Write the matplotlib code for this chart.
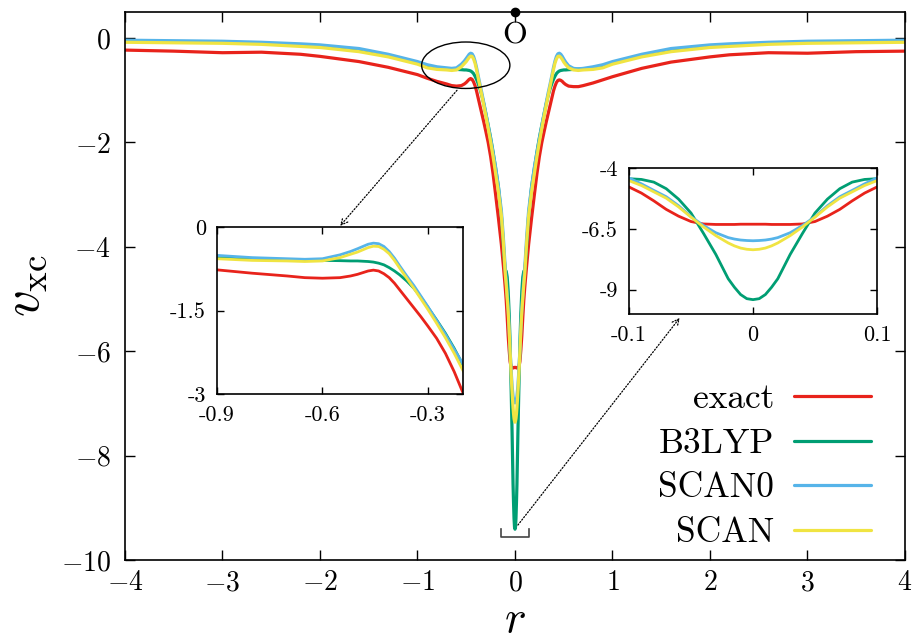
import numpy as np
import matplotlib
matplotlib.use("Agg")
import matplotlib.pyplot as plt
from matplotlib.patches import Ellipse

plt.rcParams['font.family'] = 'cmr10'
plt.rcParams['mathtext.fontset'] = 'cm'
plt.rcParams['axes.unicode_minus'] = False

# ---------------- data ----------------
r_left = [-4, -3.5, -3, -2.6, -2.2, -2, -1.6, -1.3, -1.0, -0.9,
          -0.8, -0.7, -0.65, -0.6, -0.55, -0.52, -0.5, -0.485, -0.47, -0.455,
          -0.44, -0.425, -0.41, -0.395, -0.38, -0.36, -0.34, -0.32, -0.3, -0.275,
          -0.25, -0.225, -0.2, -0.17, -0.14, -0.12, -0.11, -0.1, -0.09, -0.08,
          -0.07, -0.06, -0.05, -0.04, -0.03, -0.02, -0.015, -0.01, -0.005, 0]
r_right = [0.005, 0.01, 0.015, 0.02, 0.03, 0.04, 0.05, 0.06, 0.07, 0.08,
           0.09, 0.1, 0.11, 0.12, 0.14, 0.17, 0.2, 0.225, 0.25, 0.275,
           0.3, 0.32, 0.34, 0.36, 0.38, 0.395, 0.41, 0.425, 0.44, 0.455,
           0.47, 0.485, 0.5, 0.52, 0.55, 0.6, 0.65, 0.7, 0.8, 0.9,
           1.0, 1.3, 1.6, 2, 2.2, 2.6, 3, 3.5, 4]

exact_left = [-0.23, -0.25, -0.28, -0.27, -0.31, -0.35, -0.45, -0.56, -0.70, -0.77,
              -0.83, -0.88, -0.91, -0.92, -0.91, -0.88, -0.85, -0.82, -0.79, -0.775,
              -0.79, -0.84, -0.91, -1.01, -1.13, -1.29, -1.45, -1.61, -1.78, -2.00,
              -2.27, -2.60, -2.98, -3.45, -3.95, -4.35, -4.56, -4.78, -5.03, -5.35,
              -5.70, -5.98, -6.20, -6.30, -6.32, -6.32, -6.32, -6.31, -6.31, -6.31]
exact_right = [-6.31, -6.31, -6.32, -6.32, -6.32, -6.30, -6.20, -5.98, -5.70, -5.35,
               -5.03, -4.78, -4.56, -4.35, -3.95, -3.45, -2.98, -2.60, -2.27, -2.00,
               -1.78, -1.61, -1.45, -1.29, -1.13, -1.01, -0.92, -0.85, -0.81, -0.80,
               -0.81, -0.83, -0.86, -0.89, -0.92, -0.93, -0.93, -0.91, -0.86, -0.80,
               -0.74, -0.58, -0.46, -0.36, -0.32, -0.28, -0.29, -0.26, -0.25]

b3lyp_left = [-0.06, -0.07, -0.08, -0.10, -0.13, -0.15, -0.23, -0.33, -0.48, -0.55,
              -0.58, -0.59, -0.595, -0.60, -0.605, -0.61, -0.61, -0.615, -0.62, -0.63,
              -0.65, -0.68, -0.73, -0.79, -0.86, -0.97, -1.10, -1.26, -1.44, -1.67,
              -1.91, -2.18, -2.48, -2.85, -3.40, -3.95, -4.25, -4.44, -4.47, -4.58,
              -4.85, -5.28, -5.85, -6.68, -7.55, -8.55, -8.90, -9.20, -9.37, -9.41]
b3lyp_right = [-9.37, -9.20, -8.90, -8.55, -7.55, -6.68, -5.85, -5.28, -4.85, -4.58,
               -4.47, -4.44, -4.25, -3.95, -3.40, -2.85, -2.48, -2.18, -1.91, -1.67,
               -1.44, -1.26, -1.10, -0.97, -0.86, -0.79, -0.73, -0.68, -0.65, -0.63,
               -0.62, -0.615, -0.61, -0.61, -0.605, -0.60, -0.595, -0.59, -0.58, -0.55,
               -0.48, -0.33, -0.23, -0.15, -0.13, -0.10, -0.08, -0.07, -0.06]

scan0_left = [-0.04, -0.05, -0.06, -0.08, -0.11, -0.13, -0.20, -0.31, -0.45, -0.51,
              -0.55, -0.57, -0.58, -0.57, -0.50, -0.44, -0.39, -0.35, -0.31, -0.29,
              -0.30, -0.35, -0.44, -0.56, -0.70, -0.88, -1.05, -1.24, -1.43, -1.68,
              -1.93, -2.20, -2.46, -2.85, -3.30, -3.80, -4.10, -4.41, -4.65, -4.92,
              -5.18, -5.55, -6.00, -6.36, -6.66, -6.86, -6.92, -6.96, -6.98, -6.99]
scan0_right = [-6.98, -6.96, -6.92, -6.86, -6.66, -6.36, -6.00, -5.55, -5.18, -4.92,
               -4.65, -4.41, -4.10, -3.80, -3.30, -2.85, -2.46, -2.20, -1.93, -1.68,
               -1.43, -1.24, -1.05, -0.88, -0.70, -0.56, -0.44, -0.35, -0.30, -0.29,
               -0.31, -0.35, -0.40, -0.46, -0.53, -0.58, -0.59, -0.58, -0.55, -0.51,
               -0.45, -0.31, -0.20, -0.13, -0.11, -0.08, -0.06, -0.05, -0.04]

scan_left = [-0.08, -0.09, -0.10, -0.12, -0.16, -0.18, -0.26, -0.36, -0.50, -0.57,
             -0.60, -0.61, -0.62, -0.61, -0.55, -0.49, -0.45, -0.41, -0.37, -0.345,
             -0.35, -0.40, -0.48, -0.60, -0.74, -0.92, -1.10, -1.29, -1.48, -1.73,
             -1.99, -2.27, -2.58, -2.95, -3.40, -3.90, -4.20, -4.52, -4.72, -4.98,
             -5.24, -5.60, -6.02, -6.42, -6.78, -7.08, -7.20, -7.29, -7.34, -7.36]
scan_right = [-7.34, -7.29, -7.20, -7.08, -6.78, -6.42, -6.02, -5.60, -5.24, -4.98,
              -4.72, -4.52, -4.20, -3.90, -3.40, -2.95, -2.58, -2.27, -1.99, -1.73,
              -1.48, -1.29, -1.10, -0.92, -0.74, -0.60, -0.48, -0.40, -0.35, -0.345,
              -0.37, -0.41, -0.46, -0.51, -0.57, -0.61, -0.62, -0.61, -0.60, -0.57,
              -0.50, -0.36, -0.26, -0.18, -0.16, -0.12, -0.10, -0.09, -0.08]

series_names = ['exact', 'B3LYP', 'SCAN0', 'SCAN']
colors = ['#e8231b', '#009e73', '#56b4e9', '#f0e442']

main_xticks = [-4, -3, -2, -1, 0, 1, 2, 3, 4]
main_yticks = [0, -2, -4, -6, -8, -10]
left_xticks = [-0.9, -0.6, -0.3]
left_xlabels = ['-0.9', '-0.6', '-0.3']
left_yticks = [0, -1.5, -3]
left_ylabels = ['0', '-1.5', '-3']
right_xticks = [-0.1, 0, 0.1]
right_xlabels = ['-0.1', '0', '0.1']
right_yticks = [-4, -6.5, -9]
right_ylabels = ['-4', '-6.5', '-9']

r = r_left + r_right
series_vals = [exact_left + exact_right, b3lyp_left + b3lyp_right,
               scan0_left + scan0_right, scan_left + scan_right]

# ---------------- figure ----------------
W, H = 914, 642
fig = plt.figure(figsize=(W / 100, H / 100), dpi=100)

def frac(l, t, rgt, b):
    return [l / W, 1 - b / H, (rgt - l) / W, (b - t) / H]

def mlabel(t):
    return r'$%d$' % t if t >= 0 else r'$-%d$' % (-t)

ax = fig.add_axes(frac(125, 12, 905, 560))
for name, vals, c in zip(series_names, series_vals, colors):
    ax.plot(r, vals, color=c, lw=2.3, label=name, solid_joinstyle='round',
            solid_capstyle='round')

ax.set_xlim(-4, 4)
ax.set_ylim(-10, 0.5)
ax.set_xticks(main_xticks)
ax.set_xticklabels([mlabel(t) for t in main_xticks])
ax.set_yticks(main_yticks)
ax.set_yticklabels([mlabel(t) for t in main_yticks])
ax.tick_params(axis='y', direction='in', right=True, length=7, width=1,
               labelsize=20, pad=10)
ax.tick_params(axis='x', direction='in', top=True, length=7, width=1,
               labelsize=20, pad=7)
for s in ax.spines.values():
    s.set_linewidth(1.2)
fig.text(515 / W, 1.0 / H, r'$r$', ha='center', va='bottom', fontsize=33)
ax.set_ylabel(r'$v_{\rm xc}$', fontsize=38, labelpad=8)

# origin marker
ax.plot([0], [0.5], 'o', color='black', ms=6, clip_on=False, zorder=10)
ax.text(0, 0.04, 'O', ha='center', va='center', fontsize=23)

# ellipse around the bump
ax.add_patch(Ellipse((-0.505, -0.52), 0.905, 0.89, fill=False, ec='black', lw=1.0, zorder=6))

# bracket around the minimum
ax.plot([-0.145, -0.145, 0.145, 0.145], [-9.41, -9.56, -9.56, -9.41],
        color='#444444', lw=1.2, zorder=6)

# dotted arrows to insets
ax.annotate('', xy=(-1.795, -3.6), xytext=(-0.595, -1.0),
            arrowprops=dict(arrowstyle='->', linestyle=(0, (1, 1.5)), lw=0.9, color='black',
                            shrinkA=0, shrinkB=0, mutation_scale=12))
ax.annotate('', xy=(1.69, -5.36), xytext=(0.03, -9.33),
            arrowprops=dict(arrowstyle='->', linestyle=(0, (1, 1.5)), lw=0.9, color='black',
                            shrinkA=0, shrinkB=0, mutation_scale=12))

ax.legend(loc='lower right', bbox_to_anchor=(0.957, 0.02), frameon=False,
          markerfirst=False, fontsize=25.5, handlelength=2.2, handletextpad=0.55,
          labelspacing=0.36, borderpad=0, borderaxespad=0)

# left inset
ax1 = fig.add_axes(frac(217, 227, 463, 394))
for vals, c in zip(series_vals, colors):
    ax1.plot(r, vals, color=c, lw=2.0, solid_joinstyle='round')
ax1.set_xlim(-0.9, -0.2)
ax1.set_ylim(-3, 0)
ax1.set_xticks(left_xticks)
ax1.set_xticklabels(left_xlabels)
ax1.set_yticks(left_yticks)
ax1.set_yticklabels(left_ylabels)
ax1.tick_params(direction='in', top=True, right=True, length=5, width=1,
                labelsize=16, pad=8)
for s in ax1.spines.values():
    s.set_linewidth(1.2)

# right inset
ax2 = fig.add_axes(frac(629, 168, 877, 314))
for vals, c in zip(series_vals, colors):
    ax2.plot(r, vals, color=c, lw=2.0, solid_joinstyle='round')
ax2.set_xlim(-0.1, 0.1)
ax2.set_ylim(-10, -4)
ax2.set_xticks(right_xticks)
ax2.set_xticklabels(right_xlabels)
ax2.set_yticks(right_yticks)
ax2.set_yticklabels(right_ylabels)
ax2.tick_params(direction='in', top=True, right=True, length=5, width=1,
                labelsize=16, pad=8)
for s in ax2.spines.values():
    s.set_linewidth(1.2)

fig.savefig('out.png', dpi=100)
